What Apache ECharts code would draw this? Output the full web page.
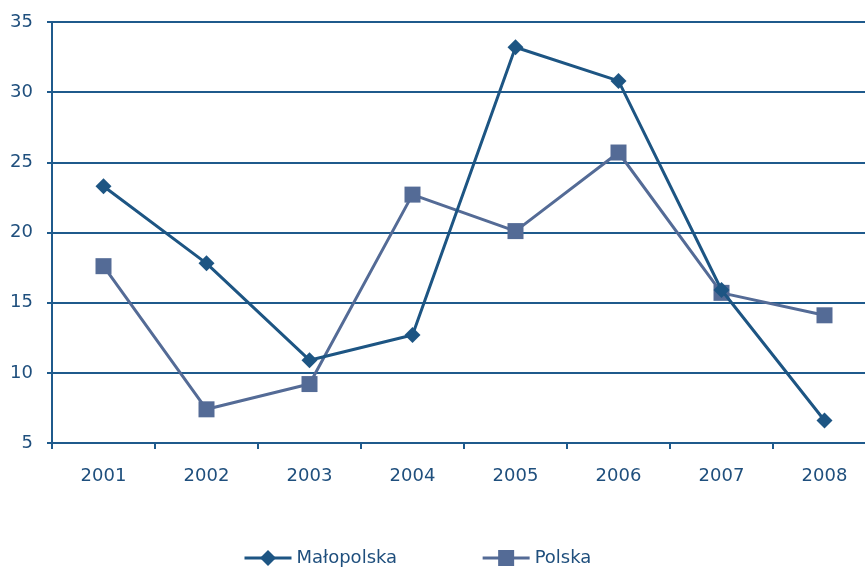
<!DOCTYPE html>
<html>
<head>
<meta charset="utf-8">
<script src="https://cdn.jsdelivr.net/npm/echarts@6/dist/echarts.min.js"></script>
<style>
html, body { margin: 0; padding: 0; background: #fff; overflow: hidden; }
#main { width: 880px; height: 568px; }
</style>
</head>
<body>
<div id="main"></div>
<script>
// lata i wartości
const years = ['2001', '2002', '2003', '2004', '2005', '2006', '2007', '2008'];
const malopolska = [23.3, 17.8, 10.9, 12.7, 33.2, 30.8, 15.9, 6.6];
const polska = [17.6, 7.4, 9.2, 22.7, 20.1, 25.7, 15.7, 14.1];

const axisColor = '#1f5a8c';
const textColor = '#1f4f7d';
const font = 'DejaVu Sans';

// wykres jest przycięty z prawej strony, dlatego kontener jest szerszy niż okno
var myChart = echarts.init(document.getElementById('main'));
var option = {
    animation: false,
    backgroundColor: '#ffffff',
    textStyle: { fontFamily: font },
    grid: {
        left: 52,
        width: 824,
        top: 22,
        bottom: 125
    },
    legend: {
        top: 544,
        left: 238,
        itemGap: 84,
        itemWidth: 47,
        itemHeight: 20,
        lineStyle: { width: 3 },
        textStyle: { color: textColor, fontSize: 18, fontFamily: font },
        data: ['Małopolska', 'Polska']
    },
    xAxis: {
        type: 'category',
        data: years,
        boundaryGap: true,
        axisLine: { lineStyle: { color: axisColor, width: 2 } },
        axisTick: { show: true, length: 6, lineStyle: { color: axisColor, width: 2 } },
        axisLabel: { color: textColor, fontSize: 18, margin: 24 },
        splitLine: { show: false }
    },
    yAxis: {
        type: 'value',
        min: 5,
        max: 35,
        interval: 5,
        axisLine: { show: true, lineStyle: { color: axisColor, width: 2 } },
        axisTick: { show: true, length: 5, lineStyle: { color: axisColor, width: 2 } },
        axisLabel: { color: textColor, fontSize: 18, margin: 19 },
        splitLine: { show: true, lineStyle: { color: axisColor, width: 2 } }
    },
    series: [
        {
            name: 'Małopolska',
            type: 'line',
            data: malopolska,
            symbol: 'diamond',
            symbolSize: 16,
            z: 3,
            itemStyle: { color: '#1d5583' },
            lineStyle: { color: '#1d5583', width: 3 }
        },
        {
            name: 'Polska',
            type: 'line',
            data: polska,
            symbol: 'rect',
            symbolSize: 16,
            z: 2,
            itemStyle: { color: '#546b96' },
            lineStyle: { color: '#546b96', width: 3 }
        }
    ]
};
option && myChart.setOption(option);
</script>
</body>
</html>
